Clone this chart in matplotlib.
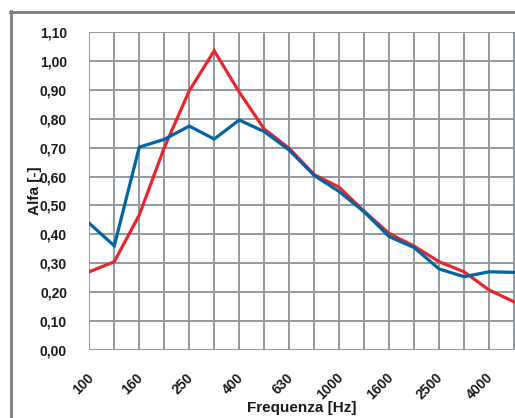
import matplotlib
matplotlib.use("Agg")
import matplotlib.pyplot as plt
import matplotlib.transforms as mtransforms
from matplotlib.lines import Line2D
from matplotlib import font_manager

# Third-octave band centre frequencies (Hz)
freqs = [100, 125, 160, 200, 250, 315, 400, 500, 630, 800,
         1000, 1250, 1600, 2000, 2500, 3150, 4000, 5000]

# Sound absorption coefficient per band
alfa_red = [0.27, 0.305, 0.467, 0.70, 0.897, 1.036, 0.893, 0.765, 0.698,
            0.607, 0.563, 0.480, 0.403, 0.359, 0.305, 0.270, 0.207, 0.166]
alfa_blue = [0.438, 0.360, 0.702, 0.729, 0.775, 0.730, 0.796, 0.756, 0.692,
             0.604, 0.548, 0.478, 0.392, 0.354, 0.280, 0.253, 0.270, 0.268]

y_ticks = [0.0, 0.1, 0.2, 0.3, 0.4, 0.5, 0.6, 0.7, 0.8, 0.9, 1.0, 1.1]

available = {f.name for f in font_manager.fontManager.ttflist}
family = "Liberation Sans Narrow" if "Liberation Sans Narrow" in available else "Liberation Sans"

W, H = 515, 418
fig = plt.figure(figsize=(W / 100, H / 100), dpi=100)
fig.patch.set_facecolor("white")

left, right, top, bottom = 89.3, 515.0, 32.3, 349.7
ax = fig.add_axes([left / W, 1 - bottom / H, (right - left) / W, (bottom - top) / H])

idx = list(range(len(freqs)))
grid_c = "#939a9f"
for i in idx:
    ax.axvline(i, color=grid_c, lw=1.4, zorder=1)
for v in y_ticks:
    ax.axhline(v, color=grid_c, lw=1.4, zorder=1)

ax.plot(idx, alfa_red, color="#e8262d", lw=2.3, zorder=3, solid_joinstyle="miter")
ax.plot(idx, alfa_blue, color="#0064a5", lw=2.3, zorder=4, solid_joinstyle="miter")

ax.set_xlim(0, (right - left) / ((514.0 - 89.3) / 17))
ax.set_ylim(0, 1.1)
for s in ax.spines.values():
    s.set_visible(False)

ax.set_yticks(y_ticks)
ax.set_yticklabels([f"{v:.2f}".replace(".", ",") for v in y_ticks],
                   fontfamily=family, fontweight="bold", fontsize=10, color="#1a1a1a")
ax.set_xticks(idx[::2])
ax.set_xticklabels([str(f) for f in freqs[::2]], rotation=45, ha="right",
                   va="top", rotation_mode="anchor",
                   fontfamily=family, fontweight="bold", fontsize=10, color="#1a1a1a")
ax.tick_params(axis="both", length=0)
ax.tick_params(axis="y", pad=16)
ax.tick_params(axis="x", pad=15)

shift = mtransforms.ScaledTranslation(-3 / 100, 0, fig.dpi_scale_trans)
for lbl in ax.get_xticklabels():
    lbl.set_transform(lbl.get_transform() + shift)

fig.text(35 / W, 1 - 191 / H, "Alfa [-]", rotation=90, ha="center", va="center",
         fontfamily=family, fontweight="bold", fontsize=11, color="#1a1a1a")
fig.text(302 / W, 1 - 408 / H, "Frequenza [Hz]", ha="center", va="center",
         fontfamily=family, fontweight="bold", fontsize=11, color="#1a1a1a")

# Outer frame (top and left edges)
frame_c = "#7d7d7d"
fig.add_artist(Line2D([10 / W, 1.0], [1 - 11.5 / H, 1 - 11.5 / H],
                      transform=fig.transFigure, color=frame_c, lw=2.0))
fig.add_artist(Line2D([11 / W, 11 / W], [1 - 10.5 / H, 0.0],
                      transform=fig.transFigure, color=frame_c, lw=2.0))

fig.savefig("out.png", dpi=100, facecolor="white")
